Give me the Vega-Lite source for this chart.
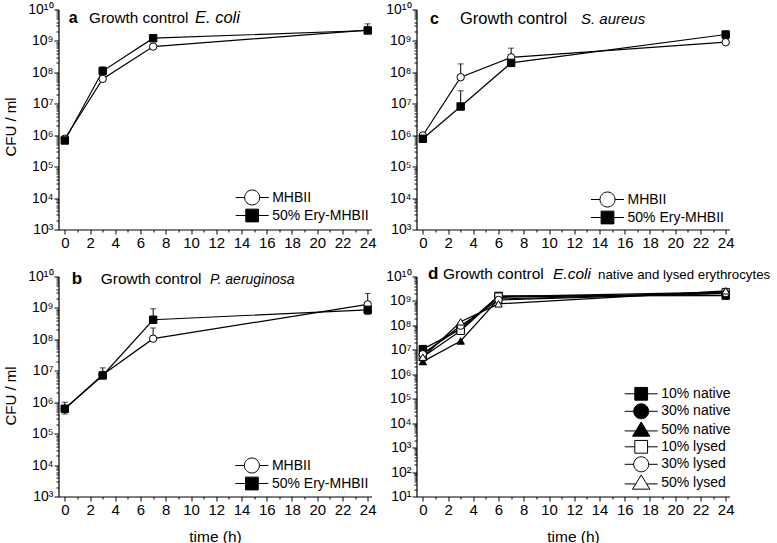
{
"$schema":"https://vega.github.io/schema/vega-lite/v6.json",
"padding":{"left":2.5,"top":2.5,"right":0,"bottom":0},
"datasets":{
"a":[
{"series":"MHBII","time":0,"cfu":770000,"hi":null,"lo":null},
{"series":"MHBII","time":3,"cfu":62000000,"hi":null,"lo":null},
{"series":"MHBII","time":7,"cfu":660000000,"hi":null,"lo":null},
{"series":"MHBII","time":24,"cfu":2200000000,"hi":null,"lo":null},
{"series":"50% Ery-MHBII","time":0,"cfu":680000,"hi":null,"lo":null},
{"series":"50% Ery-MHBII","time":3,"cfu":110000000,"hi":150000000,"lo":null},
{"series":"50% Ery-MHBII","time":7,"cfu":1220000000,"hi":null,"lo":null},
{"series":"50% Ery-MHBII","time":24,"cfu":2150000000,"hi":3500000000,"lo":null}
],
"b":[
{"series":"MHBII","time":0,"cfu":620000,"hi":null,"lo":null},
{"series":"MHBII","time":3,"cfu":7500000,"hi":null,"lo":null},
{"series":"MHBII","time":7,"cfu":105000000,"hi":230000000,"lo":null},
{"series":"MHBII","time":24,"cfu":1300000000,"hi":2900000000,"lo":null},
{"series":"50% Ery-MHBII","time":0,"cfu":620000,"hi":1000000,"lo":420000},
{"series":"50% Ery-MHBII","time":3,"cfu":7100000,"hi":12400000,"lo":null},
{"series":"50% Ery-MHBII","time":7,"cfu":420000000,"hi":940000000,"lo":null},
{"series":"50% Ery-MHBII","time":24,"cfu":870000000,"hi":null,"lo":620000000}
],
"c":[
{"series":"MHBII","time":0,"cfu":980000,"hi":null,"lo":null},
{"series":"MHBII","time":3,"cfu":70000000,"hi":186000000,"lo":null},
{"series":"MHBII","time":7,"cfu":300000000,"hi":590000000,"lo":null},
{"series":"MHBII","time":24,"cfu":910000000,"hi":null,"lo":null},
{"series":"50% Ery-MHBII","time":0,"cfu":770000,"hi":null,"lo":null},
{"series":"50% Ery-MHBII","time":3,"cfu":8200000,"hi":26000000,"lo":null},
{"series":"50% Ery-MHBII","time":7,"cfu":200000000,"hi":null,"lo":null},
{"series":"50% Ery-MHBII","time":24,"cfu":1600000000,"hi":null,"lo":null}
],
"d":[
{"series":"10% native","time":0,"cfu":10700000,"hi":null,"lo":null},
{"series":"10% native","time":3,"cfu":70000000,"hi":null,"lo":null},
{"series":"10% native","time":6,"cfu":1600000000,"hi":null,"lo":null},
{"series":"10% native","time":24,"cfu":1650000000,"hi":null,"lo":null},
{"series":"30% native","time":0,"cfu":7000000,"hi":null,"lo":null},
{"series":"30% native","time":3,"cfu":80000000,"hi":null,"lo":null},
{"series":"30% native","time":6,"cfu":1400000000,"hi":null,"lo":null},
{"series":"30% native","time":24,"cfu":2000000000,"hi":null,"lo":null},
{"series":"50% native","time":0,"cfu":3300000,"hi":null,"lo":null},
{"series":"50% native","time":3,"cfu":23000000,"hi":null,"lo":null},
{"series":"50% native","time":6,"cfu":1200000000,"hi":null,"lo":null},
{"series":"50% native","time":24,"cfu":2200000000,"hi":null,"lo":null},
{"series":"10% lysed","time":0,"cfu":5100000,"hi":null,"lo":null},
{"series":"10% lysed","time":3,"cfu":60000000,"hi":null,"lo":null},
{"series":"10% lysed","time":6,"cfu":1500000000,"hi":null,"lo":null},
{"series":"10% lysed","time":24,"cfu":2300000000,"hi":null,"lo":null},
{"series":"30% lysed","time":0,"cfu":6600000,"hi":null,"lo":null},
{"series":"30% lysed","time":3,"cfu":97000000,"hi":null,"lo":null},
{"series":"30% lysed","time":6,"cfu":1100000000,"hi":null,"lo":null},
{"series":"30% lysed","time":24,"cfu":2100000000,"hi":null,"lo":null},
{"series":"50% lysed","time":0,"cfu":5000000,"hi":null,"lo":null},
{"series":"50% lysed","time":3,"cfu":140000000,"hi":null,"lo":null},
{"series":"50% lysed","time":6,"cfu":760000000,"hi":null,"lo":null},
{"series":"50% lysed","time":24,"cfu":2600000000,"hi":null,"lo":null}
]
},
"columns":2,
"spacing":{"row":47,"column":45},
"bounds":"flush",
"resolve":{"scale":{"x":"independent","y":"independent","shape":"independent","fill":"independent"},"legend":{"shape":"independent","fill":"independent"}},
"concat":[
{
"width":313,"height":220,
"data":{"name":"a"},
"layer":[
{"mark":{"type":"line","color":"black","strokeWidth":1.2},
 "encoding":{
  "x":{"field":"time","type":"quantitative","scale":{"domain":[-0.5,24.3],"nice":false,"zero":false},
   "axis":{"orient":"top","title":"a","titleX":9.7,"titleY":12.7,"titleAlign":"left","titleBaseline":"alphabetic","titleAngle":0,"titleFontSize":16,"titleFontWeight":"bold","domain":false,"ticks":false,"labels":false}},
  "y":{"field":"cfu","type":"quantitative","scale":{"type":"log","domain":[1000,10000000000],"nice":false},"axis":null},
  "detail":{"field":"series"}}},
{"transform":[{"fold":["hi","lo"],"as":["k","ev"]},{"filter":"isValid(datum.ev)"}],
 "mark":{"type":"rule","color":"black","strokeWidth":1},
 "encoding":{
  "x":{"field":"time","type":"quantitative","axis":{"orient":"top","title":"Growth control","titleX":30,"titleY":12.7,"titleAlign":"left","titleBaseline":"alphabetic","titleAngle":0,"titleFontSize":15.3,"domain":false,"ticks":false,"labels":false}},
  "y":{"field":"cfu","type":"quantitative","axis":null},
  "y2":{"field":"ev"}}},
{"transform":[{"fold":["hi","lo"],"as":["k","ev"]},{"filter":"isValid(datum.ev)"}],
 "mark":{"type":"tick","orient":"horizontal","color":"black","size":6,"thickness":1},
 "encoding":{
  "x":{"field":"time","type":"quantitative","axis":{"orient":"top","title":"E. coli","titleX":136,"titleY":12.7,"titleAlign":"left","titleBaseline":"alphabetic","titleAngle":0,"titleFontSize":16.5,"titleFontStyle":"italic","domain":false,"ticks":false,"labels":false}},
  "y":{"field":"ev","type":"quantitative","axis":null}}},
{"mark":{"type":"point","filled":true,"stroke":"black","strokeWidth":1,"size":55,"opacity":1},
 "encoding":{
  "x":{"field":"time","type":"quantitative","axis":{"orient":"bottom","title":null,"values":[0,1,2,3,4,5,6,7,8,9,10,11,12,13,14,15,16,17,18,19,20,21,22,23,24],"labelExpr":"datum.value % 2 === 0 ? datum.label : ''","tickSize":4.5,"labelPadding":1,
    "encoding":{"ticks":{"y2":{"value":{"expr":"datum.value % 2 === 0 ? 4.5 : 2.5"}}}}}},
  "y":{"field":"cfu","type":"quantitative","axis":{"orient":"left","title":"CFU / ml","titleX":-48.3,"titleY":117,"titleAngle":-90,"titleAlign":"center","titleBaseline":"middle","titleFontSize":15,"values":[1000,2000,3000,4000,5000,6000,7000,8000,9000,10000,20000,30000,40000,50000,60000,70000,80000,90000,100000,200000,300000,400000,500000,600000,700000,800000,900000,1000000,2000000,3000000,4000000,5000000,6000000,7000000,8000000,9000000,10000000,20000000,30000000,40000000,50000000,60000000,70000000,80000000,90000000,100000000,200000000,300000000,400000000,500000000,600000000,700000000,800000000,900000000,1000000000,2000000000,3000000000,4000000000,5000000000,6000000000,7000000000,8000000000,9000000000,10000000000],"labelExpr":"datum.value === 10 ? '10¹' : datum.value === 100 ? '10²' : datum.value === 1000 ? '10³' : datum.value === 10000 ? '10⁴' : datum.value === 100000 ? '10⁵' : datum.value === 1000000 ? '10⁶' : datum.value === 10000000 ? '10⁷' : datum.value === 100000000 ? '10⁸' : datum.value === 1000000000 ? '10⁹' : datum.value === 10000000000 ? '10¹⁰' : ''","labelFontSize":14,"tickSize":4.5,"labelPadding":1,
    "encoding":{"ticks":{"x2":{"value":{"expr":"indexof([10,100,1000,10000,100000,1000000,10000000,100000000,1000000000,10000000000], datum.value) >= 0 ? -4.5 : -2.5"}}}}}},
  "shape":{"field":"series","type":"nominal","scale":{"domain":["MHBII","50% Ery-MHBII"],"range":["circle","square"]},"legend":null},
  "fill":{"field":"series","type":"nominal","scale":{"domain":["MHBII","50% Ery-MHBII"],"range":["white","black"]},"legend":null}}},
{"transform":[{"filter":"false"}],
 "mark":{"type":"point","filled":true,"stroke":"black","strokeWidth":1,"opacity":1},
 "encoding":{
  "x":{"field":"time","type":"quantitative","axis":null},
  "y":{"field":"cfu","type":"quantitative","axis":null},
  "shape":{"field":"series","type":"nominal","scale":{"domain":["MHBII","50% Ery-MHBII"],"range":["M-2.2,0L-1,0M1,0L2.2,0M-1,0A1,1,0,1,1,1,0A1,1,0,1,1,-1,0Z","M-2.2,0L-0.85,0M0.85,0L2.2,0M-0.85,-0.85L0.85,-0.85L0.85,0.85L-0.85,0.85Z"]},
   "legend":{"orient":"none","legendX":185.7,"legendY":180,"title":null,"symbolSize":225,"symbolStrokeWidth":1,"symbolStrokeColor":"black","symbolOpacity":1,"labelOffset":12,"rowPadding":-1.5,
    "encoding":{"symbols":{"fill":{"value":{"expr":"datum.value === 'MHBII' ? 'white' : 'black'"}},"stroke":{"value":"black"},"strokeWidth":{"value":1}}}}},
  "fill":{"field":"series","type":"nominal","legend":null}}}
],
"resolve":{"axis":{"x":"independent","y":"independent"},"scale":{"shape":"independent"}}
},
{
"width":313,"height":220,
"data":{"name":"c"},
"layer":[
{"mark":{"type":"line","color":"black","strokeWidth":1.2},
 "encoding":{
  "x":{"field":"time","type":"quantitative","scale":{"domain":[-0.5,24.3],"nice":false,"zero":false},
   "axis":{"orient":"top","title":"c","titleX":13,"titleY":13.7,"titleAlign":"left","titleBaseline":"alphabetic","titleAngle":0,"titleFontSize":16,"titleFontWeight":"bold","domain":false,"ticks":false,"labels":false}},
  "y":{"field":"cfu","type":"quantitative","scale":{"type":"log","domain":[1000,10000000000],"nice":false},"axis":null},
  "detail":{"field":"series"}}},
{"transform":[{"fold":["hi","lo"],"as":["k","ev"]},{"filter":"isValid(datum.ev)"}],
 "mark":{"type":"rule","color":"black","strokeWidth":1},
 "encoding":{
  "x":{"field":"time","type":"quantitative","axis":{"orient":"top","title":"Growth control","titleX":43,"titleY":13.7,"titleAlign":"left","titleBaseline":"alphabetic","titleAngle":0,"titleFontSize":16.5,"domain":false,"ticks":false,"labels":false}},
  "y":{"field":"cfu","type":"quantitative","axis":null},
  "y2":{"field":"ev"}}},
{"transform":[{"fold":["hi","lo"],"as":["k","ev"]},{"filter":"isValid(datum.ev)"}],
 "mark":{"type":"tick","orient":"horizontal","color":"black","size":6,"thickness":1},
 "encoding":{
  "x":{"field":"time","type":"quantitative","axis":{"orient":"top","title":"S. aureus","titleX":164,"titleY":13.7,"titleAlign":"left","titleBaseline":"alphabetic","titleAngle":0,"titleFontSize":15,"titleFontStyle":"italic","domain":false,"ticks":false,"labels":false}},
  "y":{"field":"ev","type":"quantitative","axis":null}}},
{"mark":{"type":"point","filled":true,"stroke":"black","strokeWidth":1,"size":55,"opacity":1},
 "encoding":{
  "x":{"field":"time","type":"quantitative","axis":{"orient":"bottom","title":null,"values":[0,1,2,3,4,5,6,7,8,9,10,11,12,13,14,15,16,17,18,19,20,21,22,23,24],"labelExpr":"datum.value % 2 === 0 ? datum.label : ''","tickSize":4.5,"labelPadding":1,
    "encoding":{"ticks":{"y2":{"value":{"expr":"datum.value % 2 === 0 ? 4.5 : 2.5"}}}}}},
  "y":{"field":"cfu","type":"quantitative","axis":{"orient":"left","title":null,"values":[1000,2000,3000,4000,5000,6000,7000,8000,9000,10000,20000,30000,40000,50000,60000,70000,80000,90000,100000,200000,300000,400000,500000,600000,700000,800000,900000,1000000,2000000,3000000,4000000,5000000,6000000,7000000,8000000,9000000,10000000,20000000,30000000,40000000,50000000,60000000,70000000,80000000,90000000,100000000,200000000,300000000,400000000,500000000,600000000,700000000,800000000,900000000,1000000000,2000000000,3000000000,4000000000,5000000000,6000000000,7000000000,8000000000,9000000000,10000000000],"labelExpr":"datum.value === 10 ? '10¹' : datum.value === 100 ? '10²' : datum.value === 1000 ? '10³' : datum.value === 10000 ? '10⁴' : datum.value === 100000 ? '10⁵' : datum.value === 1000000 ? '10⁶' : datum.value === 10000000 ? '10⁷' : datum.value === 100000000 ? '10⁸' : datum.value === 1000000000 ? '10⁹' : datum.value === 10000000000 ? '10¹⁰' : ''","labelFontSize":14,"tickSize":4.5,"labelPadding":1,
    "encoding":{"ticks":{"x2":{"value":{"expr":"indexof([10,100,1000,10000,100000,1000000,10000000,100000000,1000000000,10000000000], datum.value) >= 0 ? -4.5 : -2.5"}}}}}},
  "shape":{"field":"series","type":"nominal","scale":{"domain":["MHBII","50% Ery-MHBII"],"range":["circle","square"]},"legend":null},
  "fill":{"field":"series","type":"nominal","scale":{"domain":["MHBII","50% Ery-MHBII"],"range":["white","black"]},"legend":null}}},
{"transform":[{"filter":"false"}],
 "mark":{"type":"point","filled":true,"stroke":"black","strokeWidth":1,"opacity":1},
 "encoding":{
  "x":{"field":"time","type":"quantitative","axis":null},
  "y":{"field":"cfu","type":"quantitative","axis":null},
  "shape":{"field":"series","type":"nominal","scale":{"domain":["MHBII","50% Ery-MHBII"],"range":["M-2.2,0L-1,0M1,0L2.2,0M-1,0A1,1,0,1,1,1,0A1,1,0,1,1,-1,0Z","M-2.2,0L-0.85,0M0.85,0L2.2,0M-0.85,-0.85L0.85,-0.85L0.85,0.85L-0.85,0.85Z"]},
   "legend":{"orient":"none","legendX":183,"legendY":182,"title":null,"symbolSize":225,"symbolStrokeWidth":1,"symbolStrokeColor":"black","symbolOpacity":1,"labelOffset":12,"rowPadding":-2,
    "encoding":{"symbols":{"fill":{"value":{"expr":"datum.value === 'MHBII' ? 'white' : 'black'"}},"stroke":{"value":"black"},"strokeWidth":{"value":1}}}}},
  "fill":{"field":"series","type":"nominal","legend":null}}}
],
"resolve":{"axis":{"x":"independent","y":"independent"},"scale":{"shape":"independent"}}
},
{
"width":313,"height":220,
"data":{"name":"b"},
"layer":[
{"mark":{"type":"line","color":"black","strokeWidth":1.2},
 "encoding":{
  "x":{"field":"time","type":"quantitative","scale":{"domain":[-0.5,24.3],"nice":false,"zero":false},
   "axis":{"orient":"top","title":"b","titleX":12.7,"titleY":7.3,"titleAlign":"left","titleBaseline":"alphabetic","titleAngle":0,"titleFontSize":17,"titleFontWeight":"bold","domain":false,"ticks":false,"labels":false}},
  "y":{"field":"cfu","type":"quantitative","scale":{"type":"log","domain":[1000,10000000000],"nice":false},"axis":null},
  "detail":{"field":"series"}}},
{"transform":[{"fold":["hi","lo"],"as":["k","ev"]},{"filter":"isValid(datum.ev)"}],
 "mark":{"type":"rule","color":"black","strokeWidth":1},
 "encoding":{
  "x":{"field":"time","type":"quantitative","axis":{"orient":"top","title":"Growth control","titleX":41.7,"titleY":7.3,"titleAlign":"left","titleBaseline":"alphabetic","titleAngle":0,"titleFontSize":15.5,"domain":false,"ticks":false,"labels":false}},
  "y":{"field":"cfu","type":"quantitative","axis":null},
  "y2":{"field":"ev"}}},
{"transform":[{"fold":["hi","lo"],"as":["k","ev"]},{"filter":"isValid(datum.ev)"}],
 "mark":{"type":"tick","orient":"horizontal","color":"black","size":6,"thickness":1},
 "encoding":{
  "x":{"field":"time","type":"quantitative","axis":{"orient":"top","title":"P. aeruginosa","titleX":151,"titleY":7.3,"titleAlign":"left","titleBaseline":"alphabetic","titleAngle":0,"titleFontSize":14,"titleFontStyle":"italic","domain":false,"ticks":false,"labels":false}},
  "y":{"field":"ev","type":"quantitative","axis":null}}},
{"mark":{"type":"point","filled":true,"stroke":"black","strokeWidth":1,"size":55,"opacity":1},
 "encoding":{
  "x":{"field":"time","type":"quantitative","axis":{"orient":"bottom","title":"time (h)","titleFontSize":15.5,"titlePadding":12,"values":[0,1,2,3,4,5,6,7,8,9,10,11,12,13,14,15,16,17,18,19,20,21,22,23,24],"labelExpr":"datum.value % 2 === 0 ? datum.label : ''","tickSize":4.5,"labelPadding":1,
    "encoding":{"ticks":{"y2":{"value":{"expr":"datum.value % 2 === 0 ? 4.5 : 2.5"}}}}}},
  "y":{"field":"cfu","type":"quantitative","axis":{"orient":"left","title":"CFU / ml","titleX":-48.3,"titleY":119,"titleAngle":-90,"titleAlign":"center","titleBaseline":"middle","titleFontSize":15,"values":[1000,2000,3000,4000,5000,6000,7000,8000,9000,10000,20000,30000,40000,50000,60000,70000,80000,90000,100000,200000,300000,400000,500000,600000,700000,800000,900000,1000000,2000000,3000000,4000000,5000000,6000000,7000000,8000000,9000000,10000000,20000000,30000000,40000000,50000000,60000000,70000000,80000000,90000000,100000000,200000000,300000000,400000000,500000000,600000000,700000000,800000000,900000000,1000000000,2000000000,3000000000,4000000000,5000000000,6000000000,7000000000,8000000000,9000000000,10000000000],"labelExpr":"datum.value === 10 ? '10¹' : datum.value === 100 ? '10²' : datum.value === 1000 ? '10³' : datum.value === 10000 ? '10⁴' : datum.value === 100000 ? '10⁵' : datum.value === 1000000 ? '10⁶' : datum.value === 10000000 ? '10⁷' : datum.value === 100000000 ? '10⁸' : datum.value === 1000000000 ? '10⁹' : datum.value === 10000000000 ? '10¹⁰' : ''","labelFontSize":14,"tickSize":4.5,"labelPadding":1,
    "encoding":{"ticks":{"x2":{"value":{"expr":"indexof([10,100,1000,10000,100000,1000000,10000000,100000000,1000000000,10000000000], datum.value) >= 0 ? -4.5 : -2.5"}}}}}},
  "shape":{"field":"series","type":"nominal","scale":{"domain":["MHBII","50% Ery-MHBII"],"range":["circle","square"]},"legend":null},
  "fill":{"field":"series","type":"nominal","scale":{"domain":["MHBII","50% Ery-MHBII"],"range":["white","black"]},"legend":null}}},
{"transform":[{"filter":"false"}],
 "mark":{"type":"point","filled":true,"stroke":"black","strokeWidth":1,"opacity":1},
 "encoding":{
  "x":{"field":"time","type":"quantitative","axis":null},
  "y":{"field":"cfu","type":"quantitative","axis":null},
  "shape":{"field":"series","type":"nominal","scale":{"domain":["MHBII","50% Ery-MHBII"],"range":["M-2.2,0L-1,0M1,0L2.2,0M-1,0A1,1,0,1,1,1,0A1,1,0,1,1,-1,0Z","M-2.2,0L-0.85,0M0.85,0L2.2,0M-0.85,-0.85L0.85,-0.85L0.85,0.85L-0.85,0.85Z"]},
   "legend":{"orient":"none","legendX":185.4,"legendY":181,"title":null,"symbolSize":225,"symbolStrokeWidth":1,"symbolStrokeColor":"black","symbolOpacity":1,"labelOffset":12,"rowPadding":-1.5,
    "encoding":{"symbols":{"fill":{"value":{"expr":"datum.value === 'MHBII' ? 'white' : 'black'"}},"stroke":{"value":"black"},"strokeWidth":{"value":1}}}}},
  "fill":{"field":"series","type":"nominal","legend":null}}}
],
"resolve":{"axis":{"x":"independent","y":"independent"},"scale":{"shape":"independent"}}
},
{
"width":313,"height":220,
"data":{"name":"d"},
"layer":[
{"mark":{"type":"line","color":"black","strokeWidth":1.2},
 "encoding":{
  "x":{"field":"time","type":"quantitative","scale":{"domain":[-0.5,24.3],"nice":false,"zero":false},
   "axis":{"orient":"top","title":"d","titleX":11,"titleY":2.3,"titleAlign":"left","titleBaseline":"alphabetic","titleAngle":0,"titleFontSize":17,"titleFontWeight":"bold","domain":false,"ticks":false,"labels":false}},
  "y":{"field":"cfu","type":"quantitative","scale":{"type":"log","domain":[10,10000000000],"nice":false},
   "axis":{"orient":"right","title":"native and lysed erythrocytes","titleX":-132,"titleY":2.3,"titleAlign":"left","titleBaseline":"alphabetic","titleAngle":0,"titleFontSize":13.3,"domain":false,"ticks":false,"labels":false}},
  "detail":{"field":"series"}}},
{"transform":[{"fold":["hi","lo"],"as":["k","ev"]},{"filter":"isValid(datum.ev)"}],
 "mark":{"type":"rule","color":"black","strokeWidth":1},
 "encoding":{
  "x":{"field":"time","type":"quantitative","axis":{"orient":"top","title":"Growth control","titleX":26,"titleY":2.3,"titleAlign":"left","titleBaseline":"alphabetic","titleAngle":0,"titleFontSize":15.5,"domain":false,"ticks":false,"labels":false}},
  "y":{"field":"cfu","type":"quantitative","axis":null},
  "y2":{"field":"ev"}}},
{"transform":[{"fold":["hi","lo"],"as":["k","ev"]},{"filter":"isValid(datum.ev)"}],
 "mark":{"type":"tick","orient":"horizontal","color":"black","size":6,"thickness":1},
 "encoding":{
  "x":{"field":"time","type":"quantitative","axis":{"orient":"top","title":"E.coli","titleX":136,"titleY":2.3,"titleAlign":"left","titleBaseline":"alphabetic","titleAngle":0,"titleFontSize":15.5,"titleFontStyle":"italic","domain":false,"ticks":false,"labels":false}},
  "y":{"field":"ev","type":"quantitative","axis":null}}},
{"mark":{"type":"point","filled":true,"stroke":"black","strokeWidth":1,"size":55,"opacity":1},
 "encoding":{
  "x":{"field":"time","type":"quantitative","axis":{"orient":"bottom","title":"time (h)","titleFontSize":15.5,"titlePadding":12,"values":[0,1,2,3,4,5,6,7,8,9,10,11,12,13,14,15,16,17,18,19,20,21,22,23,24],"labelExpr":"datum.value % 2 === 0 ? datum.label : ''","tickSize":4.5,"labelPadding":1,
    "encoding":{"ticks":{"y2":{"value":{"expr":"datum.value % 2 === 0 ? 4.5 : 2.5"}}}}}},
  "y":{"field":"cfu","type":"quantitative","axis":{"orient":"left","title":null,"values":[10,20,30,40,50,60,70,80,90,100,200,300,400,500,600,700,800,900,1000,2000,3000,4000,5000,6000,7000,8000,9000,10000,20000,30000,40000,50000,60000,70000,80000,90000,100000,200000,300000,400000,500000,600000,700000,800000,900000,1000000,2000000,3000000,4000000,5000000,6000000,7000000,8000000,9000000,10000000,20000000,30000000,40000000,50000000,60000000,70000000,80000000,90000000,100000000,200000000,300000000,400000000,500000000,600000000,700000000,800000000,900000000,1000000000,2000000000,3000000000,4000000000,5000000000,6000000000,7000000000,8000000000,9000000000,10000000000],"labelExpr":"datum.value === 10 ? '10¹' : datum.value === 100 ? '10²' : datum.value === 1000 ? '10³' : datum.value === 10000 ? '10⁴' : datum.value === 100000 ? '10⁵' : datum.value === 1000000 ? '10⁶' : datum.value === 10000000 ? '10⁷' : datum.value === 100000000 ? '10⁸' : datum.value === 1000000000 ? '10⁹' : datum.value === 10000000000 ? '10¹⁰' : ''","labelFontSize":14,"tickSize":4.5,"labelPadding":1,
    "encoding":{"ticks":{"x2":{"value":{"expr":"indexof([10,100,1000,10000,100000,1000000,10000000,100000000,1000000000,10000000000], datum.value) >= 0 ? -4.5 : -2.5"}}}}}},
  "shape":{"field":"series","type":"nominal","scale":{"domain":["10% native","30% native","50% native","10% lysed","30% lysed","50% lysed"],"range":["square","circle","triangle-up","square","circle","triangle-up"]},"legend":null},
  "fill":{"field":"series","type":"nominal","scale":{"domain":["10% native","30% native","50% native","10% lysed","30% lysed","50% lysed"],"range":["black","black","black","white","white","white"]},"legend":null}}},
{"transform":[{"filter":"false"}],
 "mark":{"type":"point","filled":true,"stroke":"black","strokeWidth":1,"opacity":1},
 "encoding":{
  "x":{"field":"time","type":"quantitative","axis":null},
  "y":{"field":"cfu","type":"quantitative","axis":null},
  "shape":{"field":"series","type":"nominal","scale":{"domain":["10% native","30% native","50% native","10% lysed","30% lysed","50% lysed"],"range":["M-2.2,0L-0.85,0M0.85,0L2.2,0M-0.85,-0.85L0.85,-0.85L0.85,0.85L-0.85,0.85Z","M-2.2,0L-1,0M1,0L2.2,0M-1,0A1,1,0,1,1,1,0A1,1,0,1,1,-1,0Z","M-2.2,0.15L-0.73,0.15M0.73,0.15L2.2,0.15M0,-1.05L1.15,0.85L-1.15,0.85Z","M-2.2,0L-0.85,0M0.85,0L2.2,0M-0.85,-0.85L0.85,-0.85L0.85,0.85L-0.85,0.85Z","M-2.2,0L-1,0M1,0L2.2,0M-1,0A1,1,0,1,1,1,0A1,1,0,1,1,-1,0Z","M-2.2,0.15L-0.73,0.15M0.73,0.15L2.2,0.15M0,-1.05L1.15,0.85L-1.15,0.85Z"]},
   "legend":{"orient":"none","legendX":216.7,"legendY":109.3,"title":null,"symbolSize":225,"symbolStrokeWidth":1,"symbolStrokeColor":"black","symbolOpacity":1,"labelOffset":12,"rowPadding":-1.5,
    "encoding":{"symbols":{"fill":{"value":{"expr":"indexof(datum.value, 'native') >= 0 ? 'black' : 'white'"}},"stroke":{"value":"black"},"strokeWidth":{"value":1}}}}},
  "fill":{"field":"series","type":"nominal","legend":null}}}
],
"resolve":{"axis":{"x":"independent","y":"independent"},"scale":{"shape":"independent"}}
}
],
"config":{
"view":{"stroke":null},
"font":"Liberation Sans",
"axis":{"labelFont":"Liberation Sans","labelFontSize":15,"labelColor":"black","titleFont":"Liberation Sans","titleColor":"black","titleFontWeight":"normal","domainColor":"black","domainWidth":1.2,"tickColor":"black","tickWidth":1,"grid":false,"labelOverlap":false,"labelFlush":false},
"legend":{"labelFont":"Liberation Sans","labelFontSize":14,"labelColor":"black","padding":0}
}
}
